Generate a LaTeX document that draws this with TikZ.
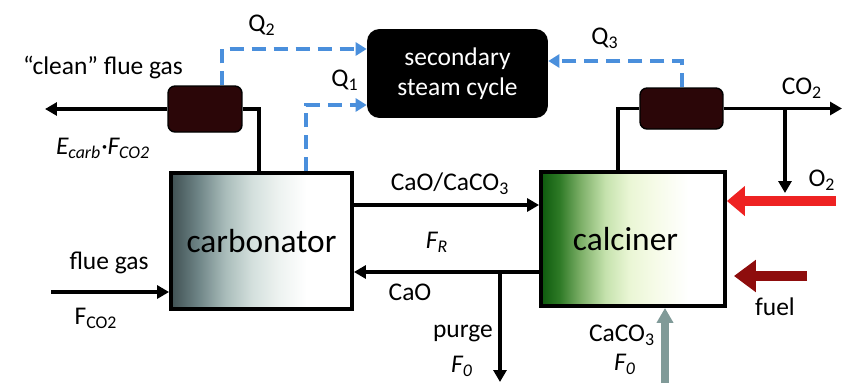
\documentclass[tikz,border=0pt]{standalone}
\usepackage{fontspec}
\setmainfont{Carlito}
\usepackage{xcolor}
\usetikzlibrary{positioning,arrows.meta,calc}

\definecolor{hxbrown}{HTML}{2B0608}
\definecolor{heatblue}{HTML}{4A8FDC}
\definecolor{o2red}{HTML}{EE2222}
\definecolor{fuelred}{HTML}{8E0D0D}
\definecolor{feedgrey}{HTML}{809A98}
\definecolor{carbA}{HTML}{3F5052}
\definecolor{carbB}{HTML}{6E8486}
\definecolor{carbC}{HTML}{A9BCBA}
\definecolor{carbD}{HTML}{D4E0DD}
\definecolor{carbE}{HTML}{EEF3F1}
\definecolor{calcA}{HTML}{0D5A0D}
\definecolor{calcB}{HTML}{2E7A26}
\definecolor{calcC}{HTML}{7FB16A}
\definecolor{calcD}{HTML}{C5E2AD}
\definecolor{calcE}{HTML}{EAF6D5}
\definecolor{calcF}{HTML}{F6FBE8}

\pgfdeclarehorizontalshading{carbshade}{100bp}{color(0bp)=(carbA);
  color(25bp)=(carbA); color(32.5bp)=(carbB); color(40bp)=(carbC);
  color(47.5bp)=(carbD); color(55bp)=(carbE); color(62.5bp)=(white); color(100bp)=(white)}
\pgfdeclarehorizontalshading{calcshade}{100bp}{color(0bp)=(calcA);
  color(25bp)=(calcA); color(30bp)=(calcB); color(36bp)=(calcC);
  color(42.5bp)=(calcD); color(49bp)=(calcE); color(56bp)=(calcF);
  color(65bp)=(white); color(100bp)=(white)}

\begin{document}
\begin{tikzpicture}[x=0.02cm,y=-0.02cm,
  unit/.style={draw=black,line width=2.2pt,minimum width=3.62cm,minimum height=2.72cm,font=\fontsize{19}{22}\selectfont},
  hx/.style={fill=hxbrown,draw=black,line width=0.8pt,rounded corners=4pt,inner sep=0pt},
  pipe/.style={line width=2.2pt},
  flow/.style={line width=2.2pt,-{Triangle[length=0.24cm,width=0.26cm]}},
  heat/.style={line width=2.2pt,color=heatblue,dash pattern=on 0.28cm off 0.16cm,-{Triangle[length=0.22cm,width=0.26cm]}},
  lbl/.style={font=\fontsize{14.5}{17}\selectfont}]

\useasboundingbox (0,0) rectangle (843,383);

% units
\node[unit,shading=carbshade](carb) at (261.5,241) {carbonator};
\node[unit,shading=calcshade,minimum width=3.68cm,minimum height=2.68cm](calc) at (633,239) {\hspace*{-0.3cm}calciner};
\node[fill=black,rounded corners=0.25cm,minimum width=3.62cm,minimum height=1.78cm,text=white,align=center,font=\fontsize{14.5}{17}\selectfont](steam) at (457.5,73.5) {secondary\\steam cycle};
\node[hx,minimum width=1.48cm,minimum height=0.92cm](hxL) at (205,109) {};
\node[hx,minimum width=1.66cm,minimum height=0.82cm](hxR) at (681.5,108.5) {};

\coordinate (cleanout) at (45,109);
\coordinate (co2out) at (842,108.5);
\coordinate (o2j) at (785,108.5);
\coordinate (o2end) at (785,193);
\coordinate (fwd) at (0,205);
\coordinate (ret) at (0,272);
\coordinate (purge) at (500,272);
\coordinate (purgeout) at (500,382);
\coordinate (feedin) at (665,383);
\coordinate (fluein) at (51,292);
\coordinate (o2in) at (836,201);
\coordinate (fuelin) at (807,276);

% gas lines
\draw[pipe] ($(carb.north)+(-2.5,0)$) |- (hxL.east);
\draw[flow] (hxL.west) -- (cleanout);
\draw[pipe] ($(calc.north)+(-15,0)$) |- (hxR.west);
\draw[flow] (hxR.east) -- (co2out);
\draw[flow] (o2j) -- (o2end);
\draw[flow] (fluein) -- (carb.west |- fluein);

% heat
\draw[heat] ($(hxL.north)+(17,0)$) |- ($(steam.west)+(0,-24.5)$);
\draw[heat] ($(carb.north)+(44.5,0)$) |- ($(steam.west)+(0,31.5)$);
\draw[heat] ($(hxR.north)+(0.5,0)$) |- ($(steam.east)+(0,-12.5)$);

% solids
\draw[flow] (carb.east |- fwd) -- (calc.west |- fwd);
\draw[flow] (calc.west |- ret) -- (carb.east |- ret);
\draw[flow] (purge) -- (purgeout);
\draw[line width=1.5mm,feedgrey,-{Triangle[length=0.3cm,width=0.32cm]}] (feedin) -- (calc.south -| feedin);
\draw[line width=2mm,o2red,-{Triangle[length=0.36cm,width=0.58cm]}] (o2in) -- (calc.east |- o2in);
\draw[line width=2mm,fuelred,-{Triangle[length=0.44cm,width=0.62cm]}] (fuelin) -- ($(calc.east |- fuelin)+(7,0)$);

% labels
\node[lbl](lclean) at (103,67) {``clean'' flue gas};
\node[lbl](lecarb) at (103,148) {\itshape E\textsubscript{carb}·F\textsubscript{CO2}};
\node[lbl](lq2) at (262,25) {Q\textsubscript{2}};
\node[lbl](lq1) at (345,80) {Q\textsubscript{1}};
\node[lbl](lq3) at (605,38) {Q\textsubscript{3}};
\node[lbl](lco2) at (802,88) {CO\textsubscript{2}};
\node[lbl](lo2) at (822,180) {O\textsubscript{2}};
\node[lbl](lfwd) at (450,184) {CaO/CaCO\textsubscript{3}};
\node[lbl](lfr) at (437,242) {\itshape F\textsubscript{R}};
\node[lbl](lcao) at (410,292) {CaO};
\node[lbl](lpurge) at (463,333) {purge};
\node[lbl](lpf0) at (462,366) {\itshape F\textsubscript{0}};
\node[lbl](lfeed) at (622,335) {CaCO\textsubscript{3}};
\node[lbl](lff0) at (625,364) {\itshape F\textsubscript{0}};
\node[lbl](lfuel) at (775,307) {fuel};
\node[lbl](lflue) at (109,263) {flue gas};
\node[lbl](lfco2) at (96,318) {F\textsubscript{CO2}};

\end{tikzpicture}
\end{document}
